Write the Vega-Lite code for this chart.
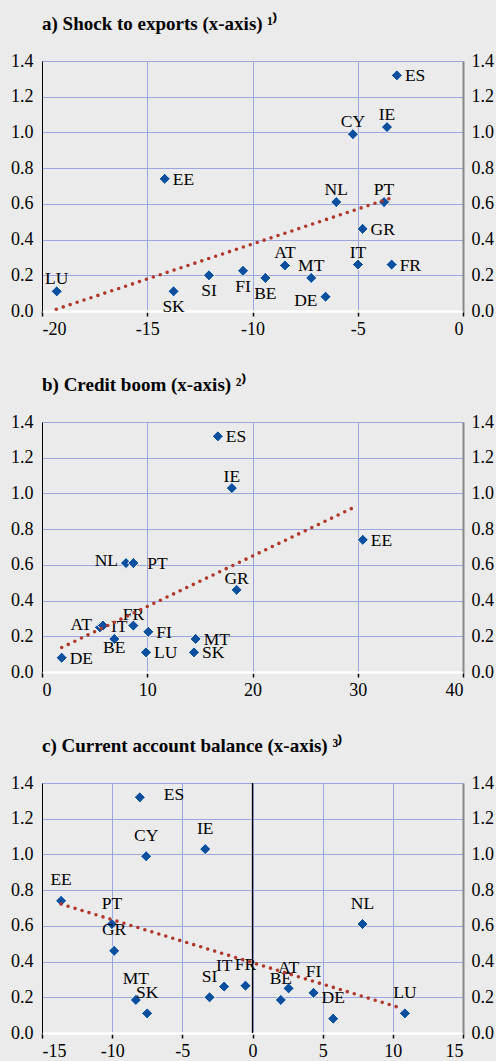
{
  "$schema": "https://vega.github.io/schema/vega-lite/v6.json",
  "background": "#ebebeb",
  "padding": {"left": 10, "top": 15, "right": 3, "bottom": 2},
  "spacing": 38,
  "config": {
    "view": {"stroke": null},
    "font": "Liberation Serif",
    "axis": {
      "labelFont": "Liberation Serif",
      "labelFontSize": 18,
      "labelColor": "#000000",
      "gridColor": "#9ba6de",
      "gridWidth": 1,
      "gridOpacity": 1,
      "title": null
    },
    "title": {
      "font": "Liberation Serif",
      "fontSize": 19,
      "fontWeight": "bold",
      "anchor": "start",
      "frame": "group",
      "color": "#000000",
      "offset": 18
    }
  },
  "datasets": {
    "a": [
      {"country": "LU", "x": -19.3, "y": 0.11},
      {"country": "SK", "x": -13.75, "y": 0.11},
      {"country": "EE", "x": -14.17, "y": 0.74},
      {"country": "SI", "x": -12.07, "y": 0.20},
      {"country": "FI", "x": -10.45, "y": 0.225},
      {"country": "BE", "x": -9.39, "y": 0.185},
      {"country": "AT", "x": -8.46, "y": 0.255},
      {"country": "MT", "x": -7.21, "y": 0.185},
      {"country": "DE", "x": -6.53, "y": 0.08},
      {"country": "NL", "x": -6.02, "y": 0.61},
      {"country": "CY", "x": -5.23, "y": 0.99},
      {"country": "IT", "x": -4.99, "y": 0.26},
      {"country": "GR", "x": -4.77, "y": 0.46},
      {"country": "PT", "x": -3.75, "y": 0.61},
      {"country": "IE", "x": -3.61, "y": 1.03},
      {"country": "FR", "x": -3.39, "y": 0.26},
      {"country": "ES", "x": -3.14, "y": 1.32}
    ],
    "ta": [
      {"x": -19.32, "y": 0.01},
      {"x": -3.42, "y": 0.633}
    ],
    "b": [
      {"country": "DE", "x": 1.87, "y": 0.08},
      {"country": "AT", "x": 5.5, "y": 0.25},
      {"country": "IT", "x": 5.8, "y": 0.26},
      {"country": "BE", "x": 6.87, "y": 0.185},
      {"country": "NL", "x": 7.98, "y": 0.61},
      {"country": "PT", "x": 8.68, "y": 0.61},
      {"country": "FR", "x": 8.68, "y": 0.26},
      {"country": "LU", "x": 9.88, "y": 0.11},
      {"country": "FI", "x": 10.1, "y": 0.225},
      {"country": "SK", "x": 14.44, "y": 0.11},
      {"country": "MT", "x": 14.6, "y": 0.185},
      {"country": "ES", "x": 16.71, "y": 1.32},
      {"country": "IE", "x": 18.04, "y": 1.03},
      {"country": "GR", "x": 18.49, "y": 0.46},
      {"country": "EE", "x": 30.48, "y": 0.74}
    ],
    "tb": [
      {"x": 1.87, "y": 0.137},
      {"x": 30.0, "y": 0.932}
    ],
    "c": [
      {"country": "EE", "x": -13.64, "y": 0.74},
      {"country": "PT", "x": -10.02, "y": 0.61},
      {"country": "GR", "x": -9.86, "y": 0.46},
      {"country": "MT", "x": -8.31, "y": 0.185},
      {"country": "ES", "x": -8.03, "y": 1.32},
      {"country": "CY", "x": -7.58, "y": 0.99},
      {"country": "SK", "x": -7.51, "y": 0.11},
      {"country": "IE", "x": -3.37, "y": 1.03},
      {"country": "SI", "x": -3.06, "y": 0.20},
      {"country": "IT", "x": -2.02, "y": 0.26},
      {"country": "FR", "x": -0.5, "y": 0.265},
      {"country": "BE", "x": 2.02, "y": 0.185},
      {"country": "AT", "x": 2.57, "y": 0.25},
      {"country": "FI", "x": 4.35, "y": 0.225},
      {"country": "DE", "x": 5.75, "y": 0.08},
      {"country": "NL", "x": 7.84, "y": 0.61},
      {"country": "LU", "x": 10.86, "y": 0.11}
    ],
    "tc": [
      {"x": -13.64, "y": 0.722},
      {"x": 10.43, "y": 0.143}
    ],
    "zero": [
      {"x": 0}
    ]
  },
  "vconcat": [
    {
      "title": {"text": "a) Shock to exports (x-axis) ¹⁾", "font": "Liberation Serif", "fontSize": 19, "fontWeight": "bold", "anchor": "start", "frame": "group", "offset": 18},
      "width": 421,
      "height": 250,
      "data": {"name": "a"},
      "encoding": {
        "x": {"field": "x", "type": "quantitative", "scale": {"domain": [-20, 0], "nice": false}},
        "y": {"field": "y", "type": "quantitative", "scale": {"domain": [0, 1.4], "nice": false}}
      },
      "layer": [
        {
          "mark": {"type": "point", "shape": "diamond", "filled": true, "size": 125, "fill": "#0b4f9f", "stroke": "#ffffff", "strokeWidth": 1, "opacity": 1},
          "encoding": {
            "x": {"field": "x", "type": "quantitative", "axis": {"values": [-20, -15, -10, -5, 0], "labelExpr": "replace(datum.label, '−', '-')", "labelFont": "Liberation Serif", "labelFontSize": 18, "domainColor": "#ffffff", "domainWidth": 2.5, "tickColor": "#000000", "tickSize": 5, "tickWidth": 1.5, "labelPadding": 4, "grid": true}},
            "y": {"field": "y", "type": "quantitative", "axis": {"orient": "left", "values": [0, 0.2, 0.4, 0.6, 0.8, 1.0, 1.2, 1.4], "format": ".1f", "labelFont": "Liberation Serif", "labelFontSize": 18, "domainColor": "#000000", "domainWidth": 1, "ticks": false, "labelPadding": 9, "grid": true}}
          }
        },
        {
          "transform": [{"filter": {"field": "country", "oneOf": ["ES", "EE", "GR", "FR"]}}],
          "mark": {"type": "text", "align": "left", "baseline": "alphabetic", "dx": 8, "dy": 6, "fontSize": 17.5, "font": "Liberation Serif", "color": "#000000"},
          "encoding": {"text": {"field": "country"}, "y": {"field": "y", "type": "quantitative", "axis": null}}
        },
        {
          "transform": [{"filter": {"field": "country", "oneOf": ["IE", "CY", "NL", "PT", "IT", "AT", "MT", "LU"]}}],
          "mark": {"type": "text", "align": "center", "baseline": "alphabetic", "dy": -7, "fontSize": 17.5, "font": "Liberation Serif", "color": "#000000"},
          "encoding": {"text": {"field": "country"}, "y": {"field": "y", "type": "quantitative", "axis": null}}
        },
        {
          "transform": [{"filter": {"field": "country", "oneOf": ["BE", "FI", "SI", "SK"]}}],
          "mark": {"type": "text", "align": "center", "baseline": "alphabetic", "dy": 21, "fontSize": 17.5, "font": "Liberation Serif", "color": "#000000"},
          "encoding": {"text": {"field": "country"}, "y": {"field": "y", "type": "quantitative", "axis": null}}
        },
        {
          "transform": [{"filter": {"field": "country", "oneOf": ["DE"]}}],
          "mark": {"type": "text", "align": "right", "baseline": "alphabetic", "dx": -8, "dy": 9, "fontSize": 17.5, "font": "Liberation Serif", "color": "#000000"},
          "encoding": {"text": {"field": "country"}, "y": {"field": "y", "type": "quantitative", "axis": null}}
        },
        {
          "data": {"name": "ta"},
          "mark": {"type": "line", "strokeDash": [0, 7.3], "strokeCap": "round", "strokeWidth": 3.6, "color": "#b0372b"},
          "encoding": {
            "y": {"field": "y", "type": "quantitative", "axis": {"orient": "right", "values": [0, 0.2, 0.4, 0.6, 0.8, 1.0, 1.2, 1.4], "format": ".1f", "labelFont": "Liberation Serif", "labelFontSize": 18, "domainColor": "#888888", "domainWidth": 2, "ticks": false, "labelPadding": 8, "grid": false}}
          }
        }
      ],
      "resolve": {"axis": {"y": "independent"}}
    },
    {
      "title": {"text": "b) Credit boom (x-axis) ²⁾", "font": "Liberation Serif", "fontSize": 19, "fontWeight": "bold", "anchor": "start", "frame": "group", "offset": 18},
      "width": 421,
      "height": 250,
      "data": {"name": "b"},
      "encoding": {
        "x": {"field": "x", "type": "quantitative", "scale": {"domain": [0, 40], "nice": false}},
        "y": {"field": "y", "type": "quantitative", "scale": {"domain": [0, 1.4], "nice": false}}
      },
      "layer": [
        {
          "mark": {"type": "point", "shape": "diamond", "filled": true, "size": 125, "fill": "#0b4f9f", "stroke": "#ffffff", "strokeWidth": 1, "opacity": 1},
          "encoding": {
            "x": {"field": "x", "type": "quantitative", "axis": {"values": [0, 10, 20, 30, 40], "labelFont": "Liberation Serif", "labelFontSize": 18, "domainColor": "#ffffff", "domainWidth": 2.5, "tickColor": "#000000", "tickSize": 5, "tickWidth": 1.5, "labelPadding": 4, "grid": true}},
            "y": {"field": "y", "type": "quantitative", "axis": {"orient": "left", "values": [0, 0.2, 0.4, 0.6, 0.8, 1.0, 1.2, 1.4], "format": ".1f", "labelFont": "Liberation Serif", "labelFontSize": 18, "domainColor": "#000000", "domainWidth": 1, "ticks": false, "labelPadding": 9, "grid": true}}
          }
        },
        {
          "transform": [{"filter": {"field": "country", "oneOf": ["ES", "EE", "IT", "FI", "LU", "MT", "SK", "DE"]}}],
          "mark": {"type": "text", "align": "left", "baseline": "alphabetic", "dx": 8, "dy": 6, "fontSize": 17.5, "font": "Liberation Serif", "color": "#000000"},
          "encoding": {"text": {"field": "country"}, "y": {"field": "y", "type": "quantitative", "axis": null}}
        },
        {
          "transform": [{"filter": {"field": "country", "oneOf": ["PT"]}}],
          "mark": {"type": "text", "align": "left", "baseline": "alphabetic", "dx": 14, "dy": 6, "fontSize": 17.5, "font": "Liberation Serif", "color": "#000000"},
          "encoding": {"text": {"field": "country"}, "y": {"field": "y", "type": "quantitative", "axis": null}}
        },
        {
          "transform": [{"filter": {"field": "country", "oneOf": ["IE", "GR", "FR"]}}],
          "mark": {"type": "text", "align": "center", "baseline": "alphabetic", "dy": -6, "fontSize": 17.5, "font": "Liberation Serif", "color": "#000000"},
          "encoding": {"text": {"field": "country"}, "y": {"field": "y", "type": "quantitative", "axis": null}}
        },
        {
          "transform": [{"filter": {"field": "country", "oneOf": ["BE"]}}],
          "mark": {"type": "text", "align": "center", "baseline": "alphabetic", "dy": 14, "fontSize": 17.5, "font": "Liberation Serif", "color": "#000000"},
          "encoding": {"text": {"field": "country"}, "y": {"field": "y", "type": "quantitative", "axis": null}}
        },
        {
          "transform": [{"filter": {"field": "country", "oneOf": ["NL", "AT"]}}],
          "mark": {"type": "text", "align": "right", "baseline": "alphabetic", "dx": -8, "dy": 3, "fontSize": 17.5, "font": "Liberation Serif", "color": "#000000"},
          "encoding": {"text": {"field": "country"}, "y": {"field": "y", "type": "quantitative", "axis": null}}
        },
        {
          "data": {"name": "tb"},
          "mark": {"type": "line", "strokeDash": [0, 7.3], "strokeCap": "round", "strokeWidth": 3.6, "color": "#b0372b"},
          "encoding": {
            "y": {"field": "y", "type": "quantitative", "axis": {"orient": "right", "values": [0, 0.2, 0.4, 0.6, 0.8, 1.0, 1.2, 1.4], "format": ".1f", "labelFont": "Liberation Serif", "labelFontSize": 18, "domainColor": "#888888", "domainWidth": 2, "ticks": false, "labelPadding": 8, "grid": false}}
          }
        }
      ],
      "resolve": {"axis": {"y": "independent"}}
    },
    {
      "title": {"text": "c) Current account balance (x-axis) ³⁾", "font": "Liberation Serif", "fontSize": 19, "fontWeight": "bold", "anchor": "start", "frame": "group", "offset": 18},
      "width": 421,
      "height": 250,
      "data": {"name": "c"},
      "encoding": {
        "x": {"field": "x", "type": "quantitative", "scale": {"domain": [-15, 15], "nice": false}},
        "y": {"field": "y", "type": "quantitative", "scale": {"domain": [0, 1.4], "nice": false}}
      },
      "layer": [
        {
          "mark": {"type": "point", "shape": "diamond", "filled": true, "size": 125, "fill": "#0b4f9f", "stroke": "#ffffff", "strokeWidth": 1, "opacity": 1},
          "encoding": {
            "x": {"field": "x", "type": "quantitative", "axis": {"values": [-15, -10, -5, 0, 5, 10, 15], "labelExpr": "replace(datum.label, '−', '-')", "labelFont": "Liberation Serif", "labelFontSize": 18, "domainColor": "#ffffff", "domainWidth": 2.5, "tickColor": "#000000", "tickSize": 5, "tickWidth": 1.5, "labelPadding": 4, "grid": true}},
            "y": {"field": "y", "type": "quantitative", "axis": {"orient": "left", "values": [0, 0.2, 0.4, 0.6, 0.8, 1.0, 1.2, 1.4], "format": ".1f", "labelFont": "Liberation Serif", "labelFontSize": 18, "domainColor": "#000000", "domainWidth": 1, "ticks": false, "labelPadding": 9, "grid": true}}
          }
        },
        {
          "data": {"name": "zero"},
          "mark": {"type": "rule", "color": "#000000", "strokeWidth": 1.3},
          "encoding": {"x": {"field": "x", "type": "quantitative"}, "y": null}
        },
        {
          "transform": [{"filter": {"field": "country", "oneOf": ["ES"]}}],
          "mark": {"type": "text", "align": "left", "baseline": "alphabetic", "dx": 24, "dy": 3, "fontSize": 17.5, "font": "Liberation Serif", "color": "#000000"},
          "encoding": {"text": {"field": "country"}, "y": {"field": "y", "type": "quantitative", "axis": null}}
        },
        {
          "transform": [{"filter": {"field": "country", "oneOf": ["CY", "IE", "EE", "PT", "GR", "MT", "SK", "SI", "IT", "FR", "BE", "AT", "FI", "DE", "NL", "LU"]}}],
          "mark": {"type": "text", "align": "center", "baseline": "alphabetic", "dy": -15.5, "fontSize": 17.5, "font": "Liberation Serif", "color": "#000000"},
          "encoding": {"text": {"field": "country"}, "y": {"field": "y", "type": "quantitative", "axis": null}}
        },
        {
          "data": {"name": "tc"},
          "mark": {"type": "line", "strokeDash": [0, 7.3], "strokeCap": "round", "strokeWidth": 3.6, "color": "#b0372b"},
          "encoding": {
            "y": {"field": "y", "type": "quantitative", "axis": {"orient": "right", "values": [0, 0.2, 0.4, 0.6, 0.8, 1.0, 1.2, 1.4], "format": ".1f", "labelFont": "Liberation Serif", "labelFontSize": 18, "domainColor": "#888888", "domainWidth": 2, "ticks": false, "labelPadding": 8, "grid": false}}
          }
        }
      ],
      "resolve": {"axis": {"y": "independent"}}
    }
  ]
}
